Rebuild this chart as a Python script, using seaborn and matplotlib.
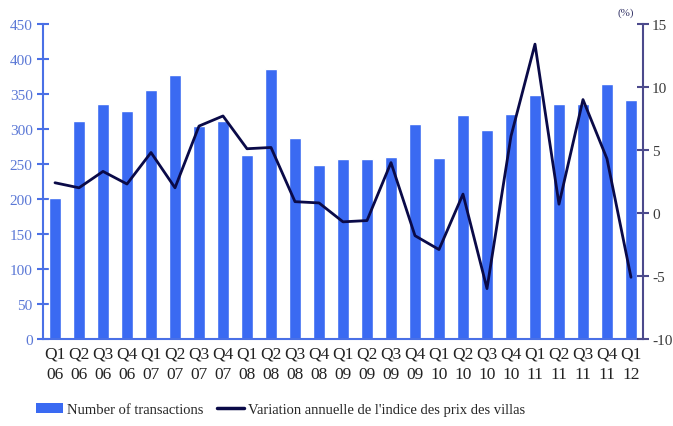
import numpy as np
import pandas as pd
import matplotlib
matplotlib.use("Agg")
import matplotlib.pyplot as plt
from matplotlib.patches import Patch
from matplotlib.lines import Line2D
from matplotlib.ticker import FixedLocator
import seaborn as sns

quarters = ["Q1", "Q2", "Q3", "Q4"] * 6 + ["Q1"]
years = ["06"] * 4 + ["07"] * 4 + ["08"] * 4 + ["09"] * 4 + ["10"] * 4 + ["11"] * 4 + ["12"]
transactions = [202, 311, 336, 326, 355, 377, 304, 312, 263, 386, 287, 249,
                257, 257, 260, 307, 259, 320, 298, 322, 348, 336, 336, 364, 342]
price_index_change = [2.4, 2.0, 3.3, 2.3, 4.8, 2.0, 6.9, 7.7, 5.1, 5.2, 0.9, 0.8,
                      -0.7, -0.6, 4.0, -1.8, -2.9, 1.5, -6.0, 6.1, 13.4, 0.7, 9.0, 4.3, -5.1]

bar_color = "#3a6af2"
line_color = "#0a0a48"
left_axis_color = "#4a70e6"
right_axis_color = "#4c4a8c"

labels = [f"{q}\n{y}" for q, y in zip(quarters, years)]
df = pd.DataFrame({"quarter": labels, "transactions": transactions,
                   "variation": price_index_change})
df["pos"] = np.arange(len(df))

sns.set_style("white")
plt.rcParams["font.family"] = ["Liberation Serif", "DejaVu Serif"]

fig = plt.figure(figsize=(6.73, 4.27), dpi=100)
ax = fig.add_axes([0.0639, 0.2037, 0.8915, 0.7378])

sns.barplot(data=df, x="quarter", y="transactions", color=bar_color,
            saturation=1, width=0.5, ax=ax)
ax.set_xlim(-0.5, len(df) - 0.5)
ax.set_ylim(0, 450)
ax.set_yticks(np.arange(0, 451, 50))
ax.set_xlabel("")
ax.set_ylabel("")

ax2 = ax.twinx()
sns.lineplot(data=df, x="pos", y="variation", color=line_color, lw=2.0, ax=ax2)
ax2.set_ylim(-10, 15)
ax2.set_yticks([-10, -5, 0, 5, 10, 15])
ax2.set_yticklabels(["-10", "-5", "0", "5", "10", "15"])
ax2.set_xlabel("")
ax2.set_ylabel("")
ax2.set_xlim(-0.5, len(df) - 0.5)

# spines
for side in ["top", "right"]:
    ax.spines[side].set_visible(False)
ax2.spines["top"].set_visible(False)
ax2.spines["left"].set_visible(False)
ax2.spines["bottom"].set_visible(False)
ax.spines["left"].set_color(left_axis_color)
ax.spines["left"].set_linewidth(1.5)
ax.spines["bottom"].set_color(left_axis_color)
ax.spines["bottom"].set_linewidth(1.5)
ax2.spines["right"].set_color(right_axis_color)
ax2.spines["right"].set_linewidth(1.5)

# left axis ticks
ax.tick_params(axis="y", direction="inout", length=9, width=1.5,
               colors=left_axis_color, labelsize=11, pad=3)
for t in ax.get_yticklabels():
    t.set_color("#5b78d6")

# right axis ticks
ax2.tick_params(axis="y", direction="inout", length=9, width=1.5,
                colors=right_axis_color, labelsize=11, pad=2)
for t in ax2.get_yticklabels():
    t.set_color("#3a3a3a")

# x ticks: labels at bar centres, marks at category boundaries
ax.tick_params(axis="x", which="major", length=0, labelsize=12.5,
               labelcolor="#222222", pad=5)
ax.xaxis.set_minor_locator(FixedLocator(np.arange(0.5, len(df) - 0.5, 1)))
ax.tick_params(axis="x", which="minor", direction="inout", length=7,
               width=1.0, color="#5a5040")
for t in ax.get_xticklabels():
    t.set_linespacing(1.3)

ax2.set_zorder(ax.get_zorder() + 1)
ax2.patch.set_visible(False)

fig.text(0.93, 0.97, "(%)", fontsize=8, color="#333366", ha="center", va="center")

handles = [Patch(facecolor=bar_color, edgecolor="none"),
           Line2D([0], [0], color=line_color, lw=2.5)]
fig.legend(handles, ["Number of transactions",
                     "Variation annuelle de l'indice des prix des villas"],
           loc="center left", bbox_to_anchor=(0.045, 0.038), ncol=2,
           frameon=False, fontsize=10.5, handlelength=1.85, handleheight=0.7,
           handletextpad=0.3, columnspacing=0.9, borderaxespad=0)

fig.savefig("out.png", dpi=100)
